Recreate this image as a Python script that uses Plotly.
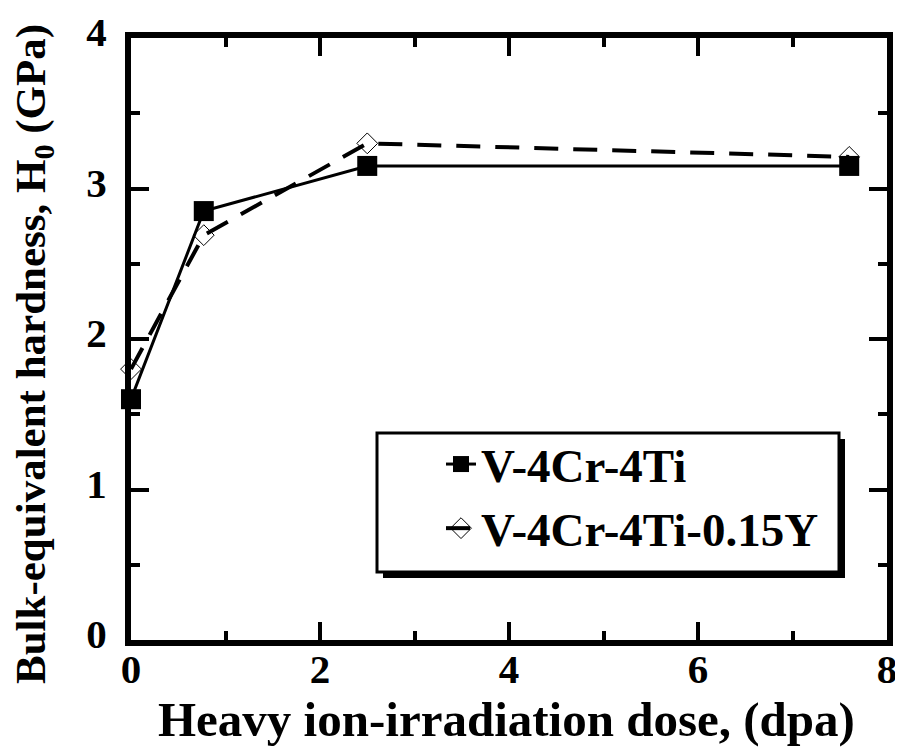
import plotly.graph_objects as go

# Data
dose = [0.0, 0.77, 2.5, 7.6]
hard_v4cr4ti = [1.60, 2.85, 3.15, 3.15]
hard_v4cr4ti_y = [1.80, 2.69, 3.30, 3.21]
series_names = ["V-4Cr-4Ti", "V-4Cr-4Ti-0.15Y"]
x_ticks = [0, 2, 4, 6, 8]
y_ticks = [0, 1, 2, 3, 4]

FONT = "Liberation Serif, Times New Roman, serif"

fig = go.Figure()
fig.add_trace(go.Scatter(
    x=dose, y=hard_v4cr4ti, name=series_names[0], mode="lines+markers",
    line=dict(color="black", width=3),
    marker=dict(symbol="square", size=20, color="black"),
    cliponaxis=False,
))
fig.add_trace(go.Scatter(
    x=dose, y=hard_v4cr4ti_y, name=series_names[1], mode="lines+markers",
    line=dict(color="black", width=4, dash="24px,15px"),
    marker=dict(symbol="diamond-open", size=16, color="black", line=dict(width=1, color="black")),
    cliponaxis=False,
))

# page body margin offset (browser default 8px)
OFF = 8
W, H = 903 - OFF, 747 - OFF
L, T = 131 - OFF, 38 - OFF
R = W - (887 - OFF)
B = H - (640 - OFF)
pw, ph = W - L - R, H - T - B

def px(x):
    return (x - OFF - L) / pw

def py(y):
    return (H - B - (y - OFF)) / ph

axis_common = dict(
    showline=True, linewidth=6, linecolor="black", mirror="allticks",
    ticks="inside", ticklen=18, tickwidth=4, tickcolor="black",
    showgrid=False, zeroline=False, layer="below traces", automargin=False,
)
tick_font = dict(family=FONT, size=41, color="black", weight="bold")
fig.update_xaxes(range=[0, 8], tickvals=x_ticks, ticktext=[str(v) for v in x_ticks],
                 minor=dict(ticks="inside", dtick=1, ticklen=9, tickwidth=4, tickcolor="black"),
                 ticklabelstandoff=-12, tickfont=tick_font, **axis_common)
fig.update_yaxes(range=[0, 4], tickvals=y_ticks, ticktext=[str(v) for v in y_ticks],
                 minor=dict(ticks="inside", dtick=0.5, ticklen=9, tickwidth=4, tickcolor="black"),
                 ticklabelshift=-6, ticklabelstandoff=10, tickfont=tick_font, **axis_common)

# Legend box with shadow
bx0, bx1, by0, by1 = 377, 839, 433, 572
sh = 6
shapes = [
    dict(type="rect", xref="paper", yref="paper",
         x0=px(bx0 + sh), x1=px(bx1 + sh), y0=py(by1 + sh), y1=py(by0 + sh),
         fillcolor="black", line=dict(width=0), layer="above"),
    dict(type="rect", xref="paper", yref="paper",
         x0=px(bx0), x1=px(bx1), y0=py(by1), y1=py(by0),
         fillcolor="white", line=dict(width=3, color="black"), layer="above"),
]

annotations = [
    dict(text="Heavy ion-irradiation dose, (dpa)", xref="paper", yref="paper",
         x=px(506), y=py(719), xanchor="center", yanchor="middle", showarrow=False,
         font=dict(family=FONT, size=49, color="black", weight="bold")),
    dict(text="Bulk-equivalent hardness, H<sub>0</sub> (GPa)", xref="paper", yref="paper",
         x=px(34), y=py(354), xanchor="center", yanchor="middle", showarrow=False, textangle=-90,
         font=dict(family=FONT, size=43, color="black", weight="bold")),
]

fig.update_layout(
    width=W, height=H,
    margin=dict(l=L, r=R, t=T, b=B, autoexpand=False),
    paper_bgcolor="white", plot_bgcolor="white",
    showlegend=True,
    legend=dict(x=px(441), y=py(427), xanchor="left", yanchor="top",
                bgcolor="rgba(0,0,0,0)", borderwidth=0,
                font=dict(family=FONT, size=47, color="black", weight="bold"),
                tracegroupgap=0),
    shapes=shapes,
    annotations=annotations,
)

fig.write_html("out.html")
